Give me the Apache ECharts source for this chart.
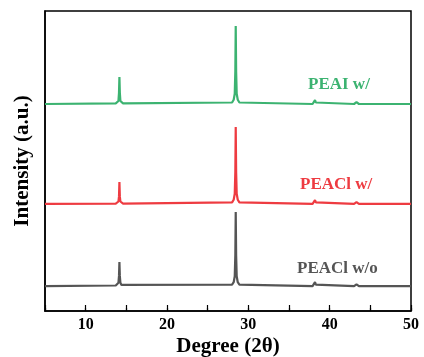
<!DOCTYPE html>
<html>
<head>
<meta charset="utf-8">
<script src="https://cdn.jsdelivr.net/npm/echarts@6/dist/echarts.min.js"></script>
<style>html,body{margin:0;padding:0;background:#fff;}#c{width:424px;height:357px;}</style>
</head>
<body>
<div id="c"></div>
<script>
var angles = [5, 13.7, 13.9, 14.03, 14.1, 14.15, 14.2, 14.27, 14.4, 14.6, 28.0, 28.2, 28.33, 28.4, 28.45, 28.5, 28.57, 28.7, 28.9, 37.9, 38.1, 38.2, 38.3, 38.5, 43.0, 43.3, 43.6, 50];
var peaclWo = [83, 85, 87, 94, 117, 163, 117, 94, 87, 85, 88, 96, 116, 186, 330, 186, 116, 96, 88, 83, 88, 96, 88, 83, 83, 89, 83, 83];
var peaclW = [357, 358, 360, 365, 382, 430, 382, 365, 360, 358, 362, 371, 391, 463, 613, 463, 391, 371, 362, 357, 362, 370, 362, 357, 357, 363, 357, 357];
var peaiW = [690, 692, 694, 700, 728, 780, 728, 700, 694, 692, 695, 704, 724, 798, 950, 798, 724, 704, 695, 690, 695, 703, 695, 690, 690, 696, 690, 690];
var seriesNames = ['PEACl w/o', 'PEACl w/', 'PEAI w/'];
var colors = ['#555555', '#ee3b41', '#3cb371'];
var xTicks = ['10', '20', '30', '40', '50'];

function pairs(ys){ return angles.map(function(a,i){ return [a, ys[i]]; }); }
var chart = echarts.init(document.getElementById('c'));
var font = '"Liberation Serif", "Times New Roman", serif';
chart.setOption({
  animation: false,
  grid: {left: 45, right: 13, top: 11, bottom: 46, show: true, borderColor: '#000', borderWidth: 1.5,
    outerBoundsMode: 'none', containLabel: false},
  xAxis: [{
    type: 'value', min: 5, max: 50, interval: 5,
    axisLine: {lineStyle: {color: '#000', width: 1.5}},
    axisTick: {inside: true, length: 3, lineStyle: {color: '#000', width: 1.2}},
    axisLabel: {color: '#000', fontFamily: font, fontWeight: 'bold', fontSize: 16, margin: 6,
      formatter: function(v){ return xTicks.indexOf(String(v)) >= 0 ? String(v) : ''; }},
    splitLine: {show: false},
    name: 'Degree (2θ)', nameLocation: 'middle', nameGap: 25, nameMoveOverlap: false,
    nameTextStyle: {color: '#000', fontFamily: font, fontWeight: 'bold', fontSize: 21}
  }, {
    type: 'value', min: 5, max: 50, interval: 5, position: 'bottom',
    axisLine: {show: false},
    axisTick: {inside: true, length: 6, lineStyle: {color: '#000', width: 1.2},
      interval: function(i, v){ return xTicks.indexOf(String(v)) >= 0; }},
    axisLabel: {show: false}, splitLine: {show: false}
  }],
  yAxis: {
    type: 'value', min: 0, max: 1000,
    axisLine: {show: true, lineStyle: {color: '#000', width: 1.5}},
    axisTick: {show: false}, axisLabel: {show: false}, splitLine: {show: false},
    name: 'Intensity (a.u.)', nameLocation: 'middle', nameGap: 12, nameMoveOverlap: false,
    nameTextStyle: {color: '#000', fontFamily: font, fontWeight: 'bold', fontSize: 21}
  },
  series: [peaclWo, peaclW, peaiW].map(function(ys, k){
    return {name: seriesNames[k], type: 'line', data: pairs(ys), showSymbol: false,
      lineStyle: {color: colors[k], width: 2.2}, smooth: false};
  }),
  graphic: [
    {type: 'text', left: 308, top: 76, style: {text: 'PEAI w/', fill: colors[2], font: 'bold 17px ' + font}},
    {type: 'text', left: 300, top: 176, style: {text: 'PEACl w/', fill: colors[1], font: 'bold 17px ' + font}},
    {type: 'text', left: 297, top: 260, style: {text: 'PEACl w/o', fill: colors[0], font: 'bold 17px ' + font}}
  ]
});
</script>
</body>
</html>
